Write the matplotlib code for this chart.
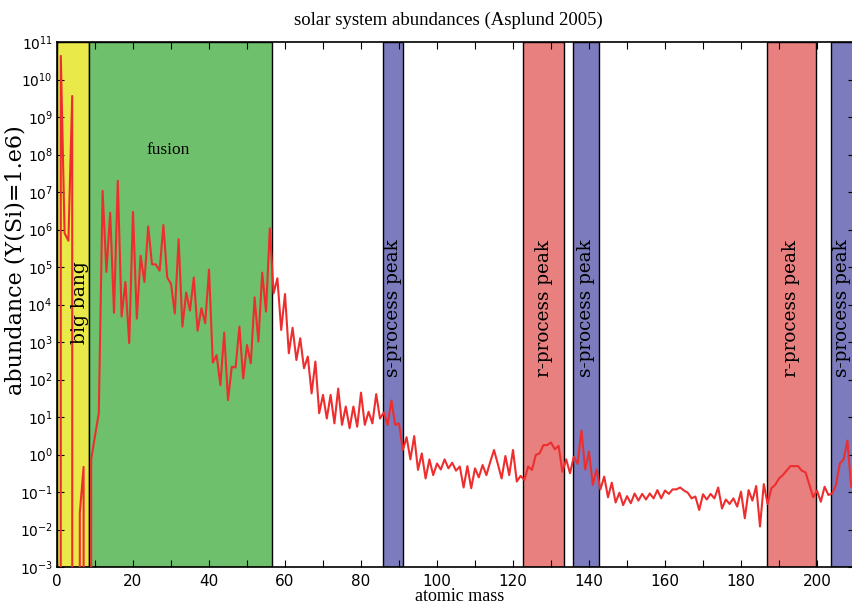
import numpy as np
import matplotlib
matplotlib.use("Agg")
import matplotlib.pyplot as plt
from matplotlib.ticker import MultipleLocator, LogLocator, NullLocator

# atomic mass numbers and log10 abundances (None = zero abundance)
mass = list(range(0, 210))
log_abund = [
    None, 10.63, 5.9, 5.7, 9.56, None, -1.56, -0.33, None, -0.13,
    0.5, 1.1, 7.03, 4.87, 6.45, 3.78, 7.3, 3.68, 4.6, 2.97,
    6.47, 3.62, 5.3, 4.6, 6.08, 5.07, 5.07, 4.9, 6.12, 4.72,
    4.55, 3.76, 5.74, 3.41, 4.32, 3.84, 4.72, 3.3, 3.9, 3.5,
    4.93, 2.45, 2.65, 1.85, 3.25, 1.45, 2.34, 2.32, 3.41, 2.03,
    2.92, 2.43, 4.19, 3.01, 4.85, 3.81, 6.03, 4.3, 4.7, 3.32,
    4.28, 2.7, 3.38, 2.52, 3.1, 2.3, 2.61, 1.63, 2.48, 1.1,
    1.59, 0.96, 1.59, 0.83, 1.76, 0.79, 1.28, 0.7, 1.28, 0.74,
    1.65, 0.79, 1.14, 0.83, 1.61, 0.96, 1.12, 0.79, 1.44, 0.79,
    0.83, 0.12, 0.46, -0.13, 0.49, -0.41, 0.03, -0.64, -0.13, -0.55,
    -0.24, -0.4, -0.13, -0.37, -0.22, -0.43, -0.32, -0.88, -0.31, -0.9,
    -0.37, -0.61, -0.28, -0.55, -0.2, 0.12, -0.25, -0.64, -0.04, -0.55,
    0.12, -0.72, -0.57, -0.68, -0.32, -0.41, -0.01, 0.03, 0.25, 0.25,
    0.32, 0.14, 0.23, -0.46, -0.13, -0.5, -0.06, -0.25, 0.64, -0.4,
    0.08, -0.81, -0.4, -0.93, -0.59, -1.14, -0.75, -1.28, -1.02, -1.35,
    -1.11, -1.3, -1.04, -1.23, -1.05, -1.2, -1.04, -1.17, -0.95, -1.17,
    -0.96, -1.05, -0.93, -0.93, -0.88, -0.96, -1.02, -1.17, -1.12, -1.48,
    -1.06, -1.2, -1.05, -1.17, -0.88, -1.44, -1.2, -1.32, -1.17, -1.39,
    -0.99, -1.7, -0.95, -1.23, -0.84, -1.92, -0.79, -1.32, -0.9, -0.81,
    -0.64, -0.55, -0.43, -0.31, -0.31, -0.31, -0.43, -0.48, -0.81, -1.14,
    -0.96, -1.26, -0.86, -1.08, -1.04, -0.81, -0.24, -0.13, 0.37, -0.86,
]

# shaded process regions
band_labels = ["big bang", "fusion", "s-process peak", "r-process peak",
               "s-process peak", "r-process peak", "s-process peak"]
band_start = [0.0, 8.5, 85.7, 122.7, 135.7, 186.8, 203.8]
band_end = [8.5, 56.6, 91.1, 133.5, 142.7, 199.7, 209.4]
band_colors = ["#e9e94a", "#6fc06c", "#7b7bbd", "#e98080",
               "#7b7bbd", "#e98080", "#7b7bbd"]

abund = np.array([0.0 if v is None else 10.0 ** v for v in log_abund])

fig = plt.figure(figsize=(8.52, 6.06), dpi=100)
ax = fig.add_axes([57 / 852, 1 - 567 / 606, (3.8 * 210) / 852, 525 / 606])

for s, e, c in zip(band_start, band_end, band_colors):
    ax.axvspan(s, e, facecolor=c, edgecolor="black", linewidth=1.0, zorder=1)

ax.plot(mass, abund, color="#ee2e2e", linewidth=1.5, zorder=3)

ax.set_yscale("log", nonpositive="clip")
ax.set_xlim(0, 210)
ax.set_ylim(1e-3, 1e11)

ax.xaxis.set_major_locator(MultipleLocator(20))
ax.xaxis.set_minor_locator(MultipleLocator(10))
ax.yaxis.set_major_locator(LogLocator(base=10, numticks=20))
ax.yaxis.set_minor_locator(NullLocator())
ax.tick_params(which="both", direction="in", top=True, right=True,
               length=5, width=0.8)
ax.tick_params(axis="x", labelsize=11, pad=5)
ax.tick_params(axis="y", labelsize=10, pad=3)
for sp in ax.spines.values():
    sp.set_linewidth(1.2)

serif = "DejaVu Serif"
ax.set_title("solar system abundances (Asplund 2005)", family="Liberation Serif",
             fontsize=13.5, pad=12, x=0.4906)
ax.set_xlabel("atomic mass", family="Liberation Serif", fontsize=13, labelpad=0)
ax.xaxis.set_label_coords(0.504, -0.040)
ax.set_ylabel("abundance (Y(Si)=1.e6)", family=serif, fontsize=16)
ax.yaxis.set_label_coords(-0.038, 0.585)

# band annotations
ax.text(29.2, 10 ** 8.12, band_labels[1], family="Liberation Serif", fontsize=12.5,
        ha="center", va="center", zorder=4)
ax.text(6.0, 10 ** 4.04, band_labels[0], family=serif, fontsize=13.5,
        rotation=90, ha="center", va="center", zorder=4)
for i in range(2, len(band_labels)):
    xc = (band_start[i] + band_end[i]) / 2
    ax.text(xc, 10 ** 3.9, band_labels[i], family=serif, fontsize=13.2,
            rotation=90, ha="center", va="center", zorder=4)

fig.savefig("out.png", dpi=100)
